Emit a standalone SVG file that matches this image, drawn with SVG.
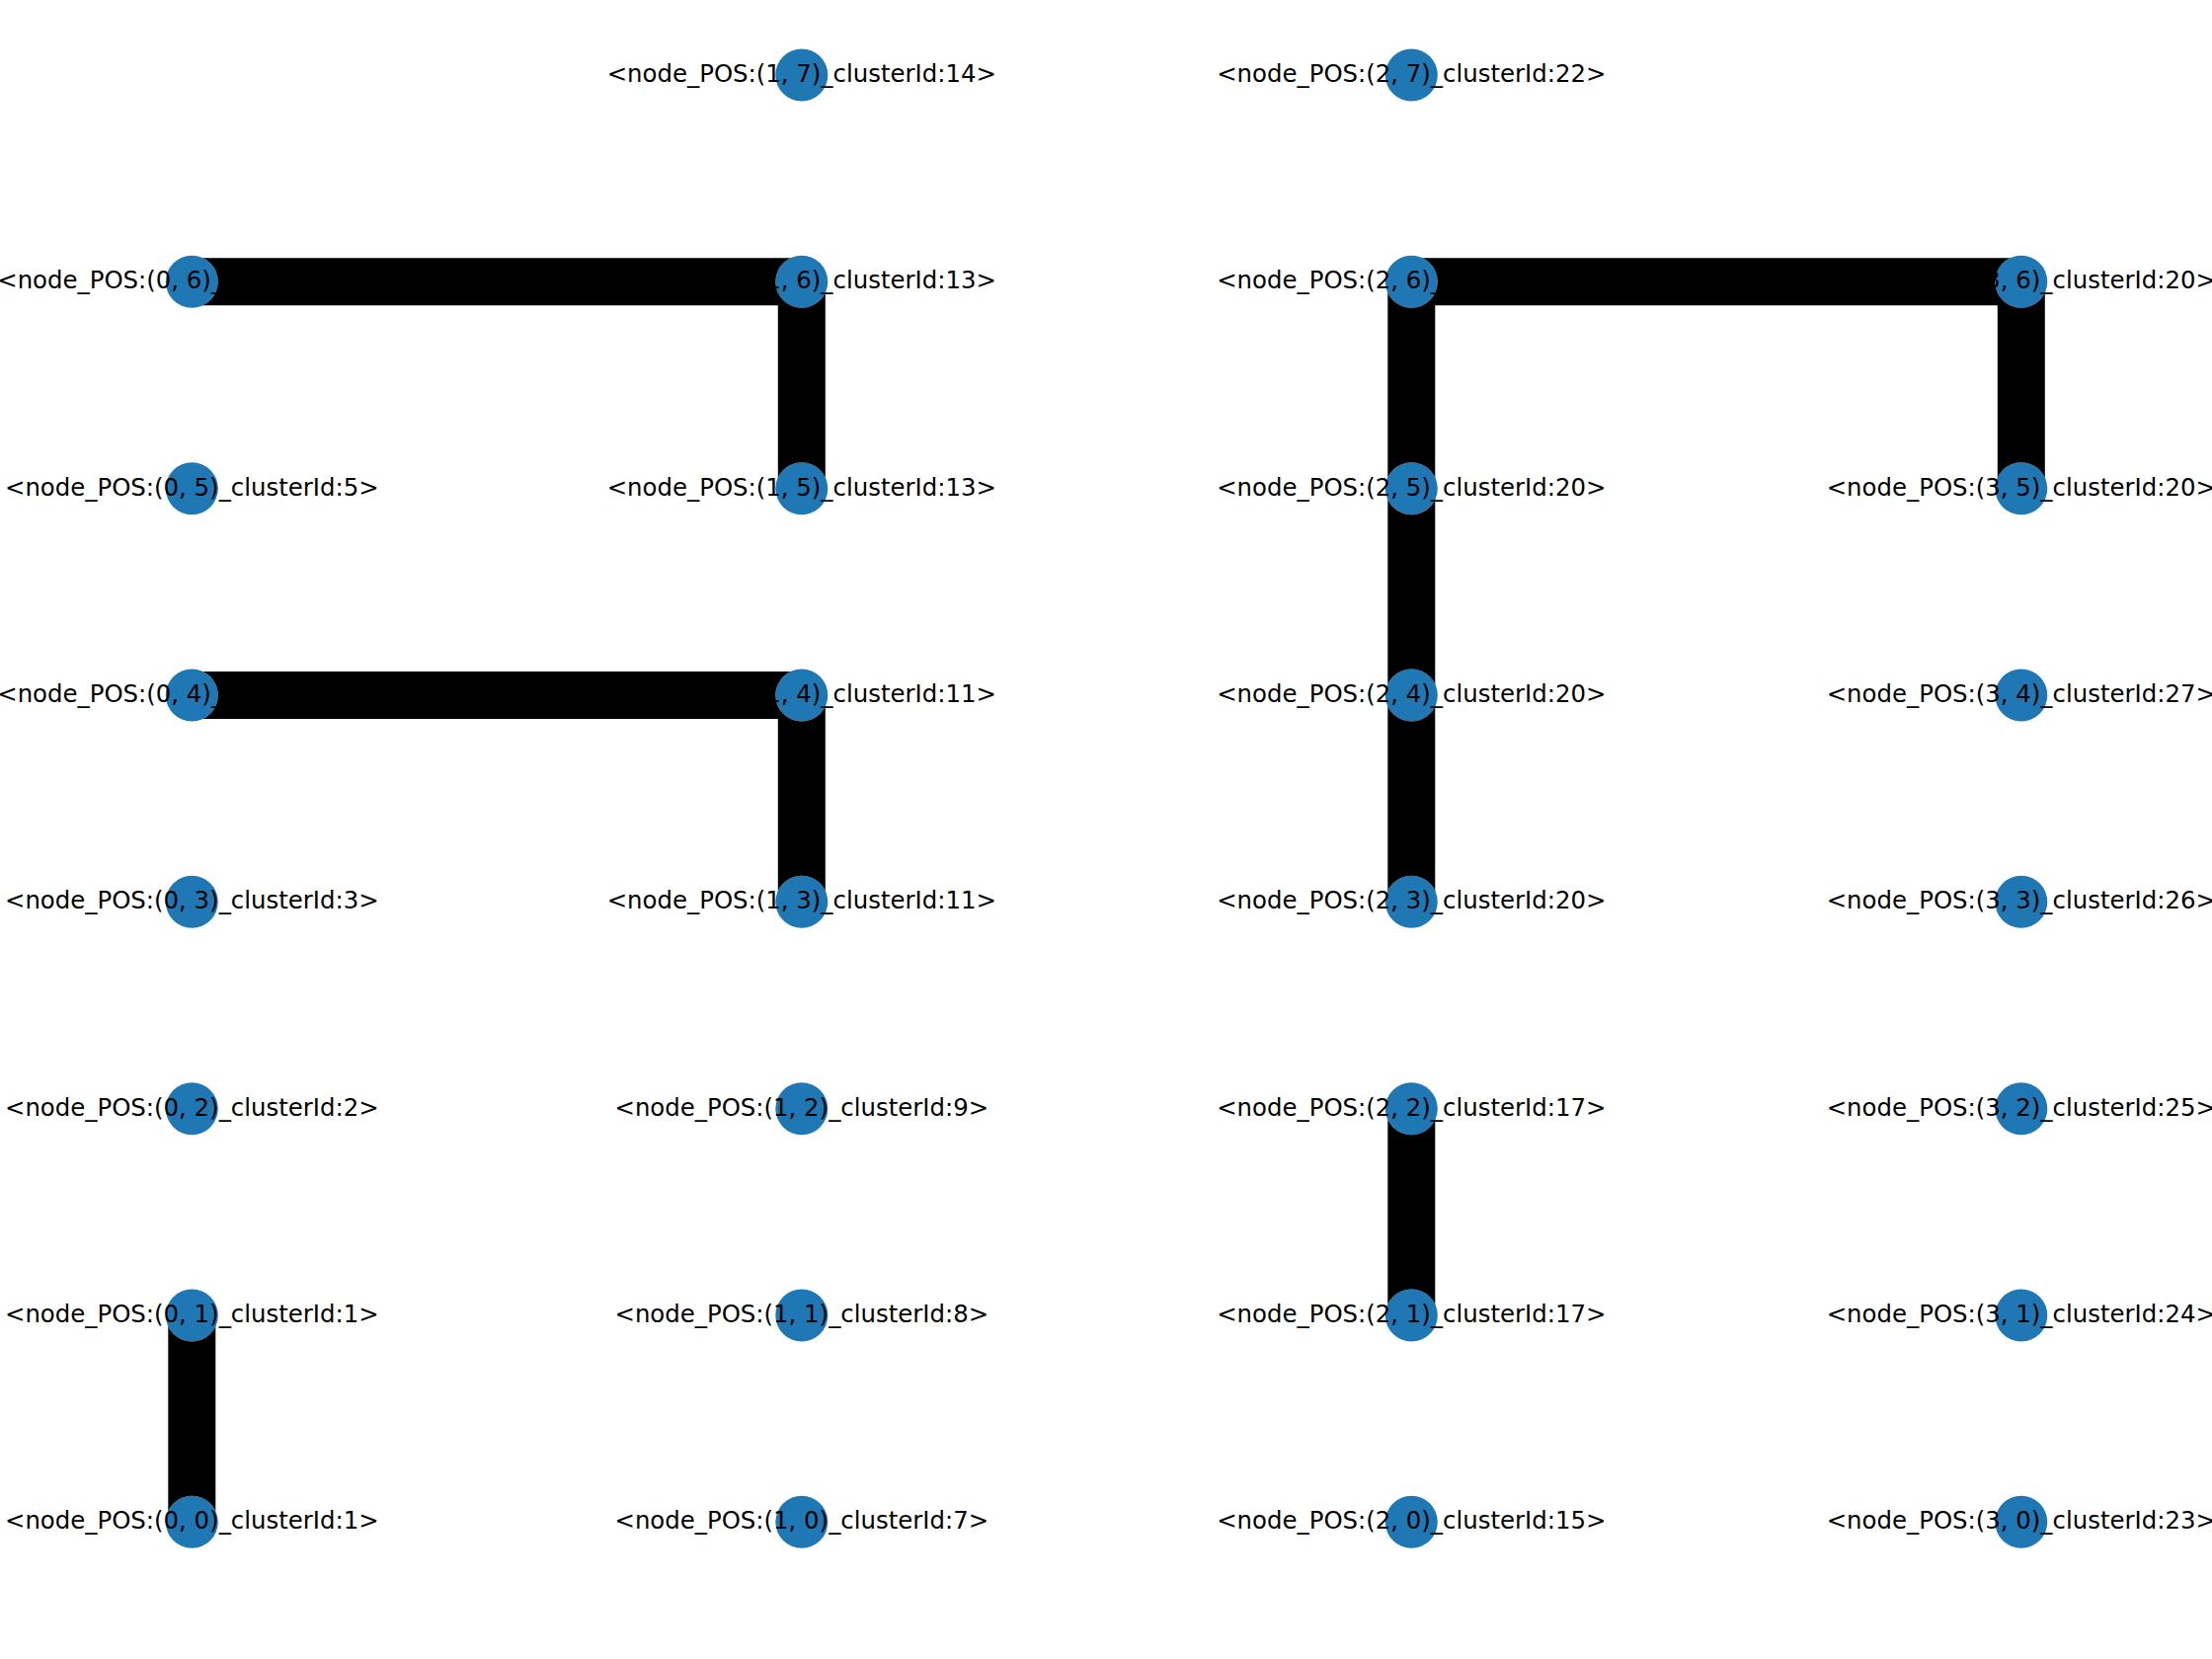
<svg xmlns="http://www.w3.org/2000/svg" width="2240" height="1680" viewBox="0 0 2240 1680">
<style>
.n circle{fill:#1f77b4}
.n text{font-family:"DejaVu Sans",sans-serif;font-size:24.4px;fill:#000;text-anchor:middle}
.e line{stroke:#000;stroke-width:48;stroke-linecap:butt}
</style>
<defs>
<mask id="holes" maskUnits="userSpaceOnUse" x="0" y="0" width="2240" height="1680">
<rect x="0" y="0" width="2240" height="1680" fill="#fff"/>
<g fill="#000">
<circle cx="194.3" cy="285.3" r="26.5"/>
<circle cx="811.8" cy="285.3" r="26.5"/>
<circle cx="811.8" cy="494.7" r="26.5"/>
<circle cx="194.3" cy="704" r="26.5"/>
<circle cx="811.8" cy="704" r="26.5"/>
<circle cx="811.8" cy="913.3" r="26.5"/>
<circle cx="194.3" cy="1332" r="26.5"/>
<circle cx="194.3" cy="1541.3" r="26.5"/>
<circle cx="1429.3" cy="285.3" r="26.5"/>
<circle cx="2046.8" cy="285.3" r="26.5"/>
<circle cx="2046.8" cy="494.7" r="26.5"/>
<circle cx="1429.3" cy="494.7" r="26.5"/>
<circle cx="1429.3" cy="704" r="26.5"/>
<circle cx="1429.3" cy="913.3" r="26.5"/>
<circle cx="1429.3" cy="1122.7" r="26.5"/>
<circle cx="1429.3" cy="1332" r="26.5"/>
</g>
</mask>
</defs>
<rect width="2240" height="1680" fill="#fff"/>
<g id="nodes">
<g id="n0_0" class="n"><circle cx="194.3" cy="1541.3" r="26.5"/><text x="194.3" y="1548.3">&lt;node_POS:(0, 0)_clusterId:1&gt;</text></g>
<g id="n0_1" class="n"><circle cx="194.3" cy="1332" r="26.5"/><text x="194.3" y="1339">&lt;node_POS:(0, 1)_clusterId:1&gt;</text></g>
<g id="n0_2" class="n"><circle cx="194.3" cy="1122.7" r="26.5"/><text x="194.3" y="1129.7">&lt;node_POS:(0, 2)_clusterId:2&gt;</text></g>
<g id="n0_3" class="n"><circle cx="194.3" cy="913.3" r="26.5"/><text x="194.3" y="920.3">&lt;node_POS:(0, 3)_clusterId:3&gt;</text></g>
<g id="n0_4" class="n"><circle cx="194.3" cy="704" r="26.5"/><text x="194.3" y="711">&lt;node_POS:(0, 4)_clusterId:11&gt;</text></g>
<g id="n0_5" class="n"><circle cx="194.3" cy="494.7" r="26.5"/><text x="194.3" y="501.7">&lt;node_POS:(0, 5)_clusterId:5&gt;</text></g>
<g id="n0_6" class="n"><circle cx="194.3" cy="285.3" r="26.5"/><text x="194.3" y="292.3">&lt;node_POS:(0, 6)_clusterId:13&gt;</text></g>
<g id="n1_0" class="n"><circle cx="811.8" cy="1541.3" r="26.5"/><text x="811.8" y="1548.3">&lt;node_POS:(1, 0)_clusterId:7&gt;</text></g>
<g id="n1_1" class="n"><circle cx="811.8" cy="1332" r="26.5"/><text x="811.8" y="1339">&lt;node_POS:(1, 1)_clusterId:8&gt;</text></g>
<g id="n1_2" class="n"><circle cx="811.8" cy="1122.7" r="26.5"/><text x="811.8" y="1129.7">&lt;node_POS:(1, 2)_clusterId:9&gt;</text></g>
<g id="n1_3" class="n"><circle cx="811.8" cy="913.3" r="26.5"/><text x="811.8" y="920.3">&lt;node_POS:(1, 3)_clusterId:11&gt;</text></g>
<g id="n1_4" class="n"><circle cx="811.8" cy="704" r="26.5"/><text x="811.8" y="711">&lt;node_POS:(1, 4)_clusterId:11&gt;</text></g>
<g id="n1_5" class="n"><circle cx="811.8" cy="494.7" r="26.5"/><text x="811.8" y="501.7">&lt;node_POS:(1, 5)_clusterId:13&gt;</text></g>
<g id="n1_6" class="n"><circle cx="811.8" cy="285.3" r="26.5"/><text x="811.8" y="292.3">&lt;node_POS:(1, 6)_clusterId:13&gt;</text></g>
<g id="n1_7" class="n"><circle cx="811.8" cy="76" r="26.5"/><text x="811.8" y="83">&lt;node_POS:(1, 7)_clusterId:14&gt;</text></g>
<g id="n2_0" class="n"><circle cx="1429.3" cy="1541.3" r="26.5"/><text x="1429.3" y="1548.3">&lt;node_POS:(2, 0)_clusterId:15&gt;</text></g>
<g id="n2_1" class="n"><circle cx="1429.3" cy="1332" r="26.5"/><text x="1429.3" y="1339">&lt;node_POS:(2, 1)_clusterId:17&gt;</text></g>
<g id="n2_2" class="n"><circle cx="1429.3" cy="1122.7" r="26.5"/><text x="1429.3" y="1129.7">&lt;node_POS:(2, 2)_clusterId:17&gt;</text></g>
<g id="n2_3" class="n"><circle cx="1429.3" cy="913.3" r="26.5"/><text x="1429.3" y="920.3">&lt;node_POS:(2, 3)_clusterId:20&gt;</text></g>
<g id="n2_4" class="n"><circle cx="1429.3" cy="704" r="26.5"/><text x="1429.3" y="711">&lt;node_POS:(2, 4)_clusterId:20&gt;</text></g>
<g id="n2_5" class="n"><circle cx="1429.3" cy="494.7" r="26.5"/><text x="1429.3" y="501.7">&lt;node_POS:(2, 5)_clusterId:20&gt;</text></g>
<g id="n2_6" class="n"><circle cx="1429.3" cy="285.3" r="26.5"/><text x="1429.3" y="292.3">&lt;node_POS:(2, 6)_clusterId:20&gt;</text></g>
<g id="n2_7" class="n"><circle cx="1429.3" cy="76" r="26.5"/><text x="1429.3" y="83">&lt;node_POS:(2, 7)_clusterId:22&gt;</text></g>
<g id="n3_0" class="n"><circle cx="2046.8" cy="1541.3" r="26.5"/><text x="2046.8" y="1548.3">&lt;node_POS:(3, 0)_clusterId:23&gt;</text></g>
<g id="n3_1" class="n"><circle cx="2046.8" cy="1332" r="26.5"/><text x="2046.8" y="1339">&lt;node_POS:(3, 1)_clusterId:24&gt;</text></g>
<g id="n3_2" class="n"><circle cx="2046.8" cy="1122.7" r="26.5"/><text x="2046.8" y="1129.7">&lt;node_POS:(3, 2)_clusterId:25&gt;</text></g>
<g id="n3_3" class="n"><circle cx="2046.8" cy="913.3" r="26.5"/><text x="2046.8" y="920.3">&lt;node_POS:(3, 3)_clusterId:26&gt;</text></g>
<g id="n3_4" class="n"><circle cx="2046.8" cy="704" r="26.5"/><text x="2046.8" y="711">&lt;node_POS:(3, 4)_clusterId:27&gt;</text></g>
<g id="n3_5" class="n"><circle cx="2046.8" cy="494.7" r="26.5"/><text x="2046.8" y="501.7">&lt;node_POS:(3, 5)_clusterId:20&gt;</text></g>
<g id="n3_6" class="n"><circle cx="2046.8" cy="285.3" r="26.5"/><text x="2046.8" y="292.3">&lt;node_POS:(3, 6)_clusterId:20&gt;</text></g>
</g>
<g id="edges" class="e" mask="url(#holes)">
<line x1="194.3" y1="285.3" x2="811.8" y2="285.3"/>
<line x1="811.8" y1="285.3" x2="811.8" y2="494.7"/>
<line x1="194.3" y1="704" x2="811.8" y2="704"/>
<line x1="811.8" y1="704" x2="811.8" y2="913.3"/>
<line x1="194.3" y1="1332" x2="194.3" y2="1541.3"/>
<line x1="1429.3" y1="285.3" x2="2046.8" y2="285.3"/>
<line x1="2046.8" y1="285.3" x2="2046.8" y2="494.7"/>
<line x1="1429.3" y1="285.3" x2="1429.3" y2="494.7"/>
<line x1="1429.3" y1="494.7" x2="1429.3" y2="704"/>
<line x1="1429.3" y1="704" x2="1429.3" y2="913.3"/>
<line x1="1429.3" y1="1122.7" x2="1429.3" y2="1332"/>
</g>
</svg>
